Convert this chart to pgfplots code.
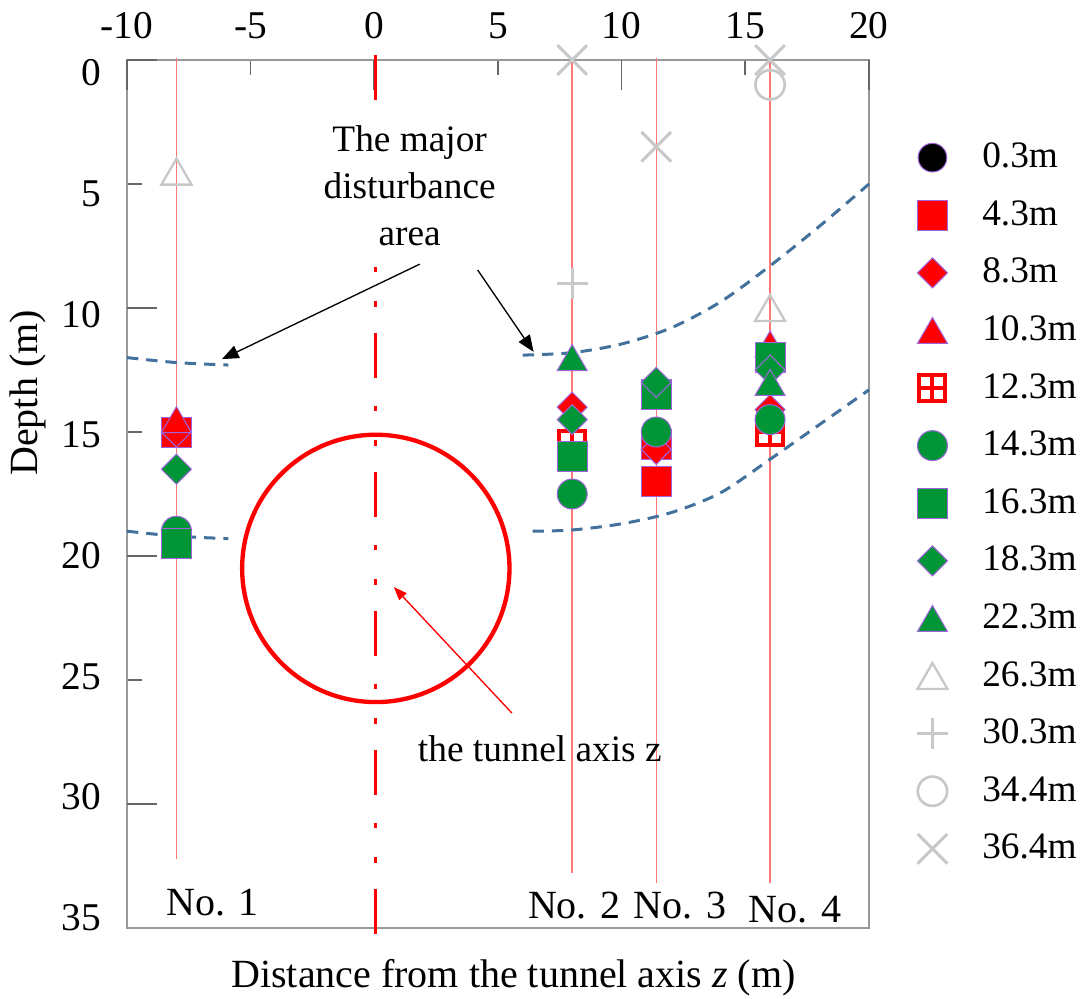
\documentclass[border=0pt]{standalone}
\usepackage{fontspec}
\setmainfont{Liberation Serif}
\usepackage{pgfplots}
\pgfplotsset{compat=1.18}
\usetikzlibrary{arrows.meta,plotmarks}

\definecolor{mred}{RGB}{255,0,0}
\definecolor{mgreen}{RGB}{0,150,55}
\definecolor{mpurp}{RGB}{160,100,220}
\definecolor{mgray}{RGB}{200,200,200}
\definecolor{curve}{RGB}{65,113,156}
\definecolor{pline}{RGB}{255,120,120}

\pgfdeclareplotmark{boxplus}{%
  \pgfpathrectangle{\pgfqpoint{-\pgfplotmarksize}{-\pgfplotmarksize}}{\pgfqpoint{2\pgfplotmarksize}{2\pgfplotmarksize}}%
  \pgfusepathqfillstroke
  \pgfpathmoveto{\pgfqpoint{-\pgfplotmarksize}{0pt}}%
  \pgfpathlineto{\pgfqpoint{\pgfplotmarksize}{0pt}}%
  \pgfpathmoveto{\pgfqpoint{0pt}{-\pgfplotmarksize}}%
  \pgfpathlineto{\pgfqpoint{0pt}{\pgfplotmarksize}}%
  \pgfusepathqstroke}
\pgfdeclareplotmark{tri}{%
  \pgfpathmoveto{\pgfqpoint{0pt}{0.75\pgfplotmarksize}}%
  \pgfpathlineto{\pgfqpoint{-0.866\pgfplotmarksize}{-0.75\pgfplotmarksize}}%
  \pgfpathlineto{\pgfqpoint{0.866\pgfplotmarksize}{-0.75\pgfplotmarksize}}%
  \pgfpathclose
  \pgfusepathqstroke}
\pgfdeclareplotmark{tri*}{%
  \pgfpathmoveto{\pgfqpoint{0pt}{0.75\pgfplotmarksize}}%
  \pgfpathlineto{\pgfqpoint{-0.866\pgfplotmarksize}{-0.75\pgfplotmarksize}}%
  \pgfpathlineto{\pgfqpoint{0.866\pgfplotmarksize}{-0.75\pgfplotmarksize}}%
  \pgfpathclose
  \pgfusepathqfillstroke}
\pgfdeclareplotmark{dia*}{%
  \pgfpathmoveto{\pgfqpoint{0pt}{\pgfplotmarksize}}%
  \pgfpathlineto{\pgfqpoint{\pgfplotmarksize}{0pt}}%
  \pgfpathlineto{\pgfqpoint{0pt}{-\pgfplotmarksize}}%
  \pgfpathlineto{\pgfqpoint{-\pgfplotmarksize}{0pt}}%
  \pgfpathclose
  \pgfusepathqfillstroke}

\begin{document}
\begin{tikzpicture}
\begin{axis}[
  at={(0,0)}, anchor=south west,
  scale only axis, width=222.6pt, height=260.4pt,
  xmin=-10, xmax=20, ymin=0, ymax=35, y dir=reverse,
  clip=false,
  axis line style={draw=black!40, line width=0.5pt},
  xtick={-10,-5,0,5,10,15,20},
  xticklabels={-10,-5,0,5,10,15,20},
  xtick pos=right, xticklabel pos=right,
  ytick={0.524,5.39,10.25,15.12,19.98,24.85,29.71,34.58},
  yticklabels={0,5,10,15,20,25,30,35},
  ytick pos=left, yticklabel pos=left,
  major tick length=0pt,
  minor xtick={-5,5,15}, minor ytick={5,15,25,35},
  minor tick length=4.5pt,
  extra x ticks={-10,0,10,20}, extra x tick labels={},
  extra y ticks={0,10,20,30}, extra y tick labels={},
  extra tick style={major tick length=9pt},
  tick style={black!60, line width=0.5pt},
  tick label style={font=\fontsize{11.8}{13}\selectfont},
  xticklabel style={yshift=2.8pt},
  yticklabel style={xshift=-4.2pt},
  xlabel={Distance from the tunnel axis \textit{z} (m)},
  ylabel={Depth (m)},
  label style={font=\fontsize{12}{14}\selectfont},
  xlabel style={at={(axis description cs:0.5209,-0.0691)}, anchor=base},
  ylabel style={at={(axis description cs:-0.1334,0.6164)}, anchor=center},
  legend style={draw=none, fill=none, at={(1.064,0.9075)}, anchor=north west,
    font=\fontsize{11.2}{13}\selectfont, row sep=7.28pt, column sep=10.35pt,
    inner sep=0pt, nodes={inner sep=0pt, text height=8pt, text depth=2pt}},
  legend cell align=left,
]
% measuring lines
\addplot[pline, line width=0.45pt, forget plot] coordinates {(-8,-0.1) (-8,32.2)};
\addplot[pline, line width=0.45pt, forget plot] coordinates {(8,-0.1) (8,32.8)};
\addplot[pline, line width=0.45pt, forget plot] coordinates {(11.4,-0.1) (11.4,33.2)};
\addplot[pline, line width=0.45pt, forget plot] coordinates {(16,-0.1) (16,33.2)};
% tunnel centre line
\addplot[mred, line width=0.7pt, dash pattern=on 13.5pt off 8.4pt on 1.5pt off 8.7pt on 1.8pt off 7.8pt, forget plot] coordinates {(0.05,-0.2) (0.05,35.4)};
% disturbance boundaries
\addplot[curve, line width=0.9pt, dash pattern=on 3.4pt off 2.4pt, smooth, forget plot] coordinates {(-10,12.0) (-8,12.2) (-5.9,12.3)};
\addplot[curve, line width=0.9pt, dash pattern=on 3.4pt off 2.4pt, smooth, forget plot] coordinates {(-10,19.0) (-8,19.2) (-5.9,19.3)};
\addplot[curve, line width=0.9pt, dash pattern=on 3.4pt off 2.4pt, smooth, forget plot] coordinates {(6,11.9) (8,11.8) (10,11.45) (12,10.8) (14,9.75) (16,8.3) (18,6.7) (20,5.0)};
\addplot[curve, line width=0.9pt, dash pattern=on 3.4pt off 2.4pt, smooth, forget plot] coordinates {(6.4,19.0) (8,18.95) (10,18.7) (12,18.25) (14,17.45) (16,16.1) (18,14.7) (20,13.3)};
% tunnel
\draw[mred, line width=1.3pt] (axis cs:0.06,20.5) circle[radius=40.1pt];

% legend-only entry
\addlegendimage{only marks, mark=*, mark size=4.3pt, mark options={fill=black, draw=mpurp, line width=0.3pt}}
\addlegendentry{0.3m}
% 4.3 m
\addplot[only marks, mark=square*, mark size=4.5pt, mark options={fill=mred, draw=mpurp, line width=0.3pt}] coordinates {(-8,15.0) (11.4,15.5) (11.4,17.0)};
\addlegendentry{4.3m}
% 8.3 m
\addplot[only marks, mark=dia*, mark size=4.5pt, mark options={fill=mred, draw=mpurp, line width=0.3pt}] coordinates {(-8,15.0) (8,14.0) (11.4,15.7) (16,14.1)};
\addlegendentry{8.3m}
% 10.3 m
\addplot[only marks, mark=tri*, mark size=5.2pt, mark options={fill=mred, draw=mpurp, line width=0.3pt}] coordinates {(-8,14.5) (16,11.45)};
\addlegendentry{10.3m}
% 12.3 m
\addplot[only marks, mark=boxplus, mark size=3.9pt, mark options={fill=white, draw=mred, line width=1.2pt}] coordinates {(8,15.5) (16,15.0)};
\addlegendentry{12.3m}
% 14.3 m
\addplot[only marks, mark=*, mark size=4.5pt, mark options={fill=mgreen, draw=mpurp, line width=0.3pt}] coordinates {(-8,19.0) (8,17.5) (11.4,15.0) (16,14.5)};
\addlegendentry{14.3m}
% 16.3 m
\addplot[only marks, mark=square*, mark size=4.5pt, mark options={fill=mgreen, draw=mpurp, line width=0.3pt}] coordinates {(-8,19.5) (8,16.0) (11.4,13.5) (16,12.0)};
\addlegendentry{16.3m}
% 18.3 m
\addplot[only marks, mark=dia*, mark size=4.5pt, mark options={fill=mgreen, draw=mpurp, line width=0.3pt}] coordinates {(-8,16.5) (8,14.5) (11.4,13.0) (16,12.5)};
\addlegendentry{18.3m}
% 22.3 m
\addplot[only marks, mark=tri*, mark size=5.2pt, mark options={fill=mgreen, draw=mpurp, line width=0.3pt}] coordinates {(8,12.0) (16,13.0)};
\addlegendentry{22.3m}
% 26.3 m
\addplot[only marks, mark=tri, mark size=5.2pt, mark options={draw=mgray, line width=0.7pt}] coordinates {(-8,4.5) (16,10.0)};
\addlegendentry{26.3m}
% 30.3 m
\addplot[only marks, mark=+, mark size=4.6pt, mark options={draw=mgray, line width=0.9pt}] coordinates {(8,9.0)};
\addlegendentry{30.3m}
% 34.4 m
\addplot[only marks, mark=o, mark size=4.4pt, mark options={draw=mgray, line width=0.8pt}] coordinates {(16,1.0)};
\addlegendentry{34.4m}
% 36.4 m
\addplot[only marks, mark=x, mark size=6.3pt, mark options={draw=mgray, line width=0.9pt}] coordinates {(8,0) (11.4,3.5) (16,0)};
\addlegendentry{36.4m}

% annotations
\node[fill=white, inner xsep=1pt, inner ysep=6pt, align=center, font=\fontsize{11.2}{14.1}\selectfont] at (axis cs:1.43,5.08) {The major\\disturbance\\area};
\draw[black, line width=0.4pt, -{Triangle[length=5pt,width=4pt]}] (axis cs:1.84,8.23) -- (axis cs:-6.16,12.06);
\draw[black, line width=0.4pt, -{Triangle[length=5pt,width=4pt]}] (axis cs:4.18,8.47) -- (axis cs:6.44,11.77);
\draw[mred, line width=0.4pt, -{Triangle[length=4pt,width=3pt]}] (axis cs:5.56,26.33) -- (axis cs:0.79,21.25);
\node[anchor=base, font=\fontsize{11.2}{13}\selectfont] at (axis cs:6.69,28.3) {the tunnel axis z};
\node[anchor=base, font=\fontsize{12}{14}\selectfont] at (axis cs:-6.53,34.48) {No. 1};
\node[anchor=base, font=\fontsize{12}{14}\selectfont] at (axis cs:8.08,34.6) {No. 2};
\node[anchor=base, font=\fontsize{12}{14}\selectfont] at (axis cs:12.36,34.6) {No. 3};
\node[anchor=base, font=\fontsize{12}{14}\selectfont] at (axis cs:17.01,34.76) {No. 4};
\end{axis}
\pgfresetboundingbox
\path (-38.1pt,-21.3pt) rectangle (289.2pt,278.4pt);
\end{tikzpicture}
\end{document}
